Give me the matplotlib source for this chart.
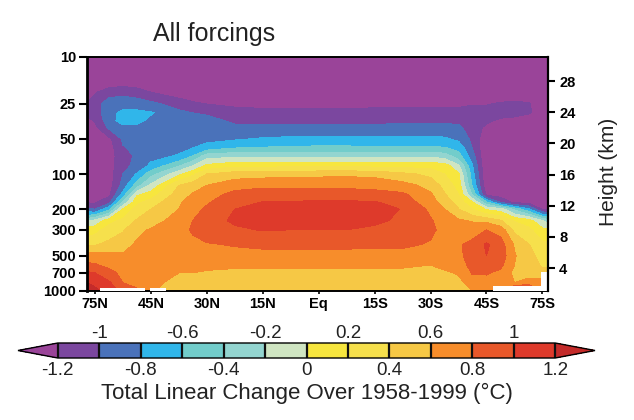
import numpy as np
import matplotlib
matplotlib.use("Agg")
import matplotlib.pyplot as plt

plt.rcParams['font.family'] = ['Liberation Sans', 'DejaVu Sans']

# x is in tick steps: 0 = 75N ... 8 = 75S
lat_labels = ['75N', '45N', '30N', '15N', 'Eq', '15S', '30S', '45S', '75S']
lat_pos = [-0.143, 0, 0.25, 0.5, 0.75, 1, 1.5, 1.75, 2, 2.5, 3, 3.5, 4, 4.5, 5, 5.5, 6,
           6.25, 6.5, 6.75, 7, 7.25, 7.5, 7.75, 8, 8.1]

pressure = [10, 15, 20, 25, 30, 35, 40, 50, 60, 70, 85, 100, 125, 150, 175, 200,
            250, 300, 400, 500, 600, 700, 850, 1000]
pressure_ticks = [10, 25, 50, 100, 200, 300, 500, 700, 1000]
height_ticks = [4, 8, 12, 16, 20, 24, 28]

# one list per latitude column, top (10 hPa) to bottom (1000 hPa)
change = [
    [-1.7, -1.5, -1.35, -1.18, -1.18, -1.25, -1.3, -1.35, -1.4, -1.4, -1.4, -1.35, -1.3, -1.28, -1.22, -.95, -.25, .1, .36, .68, .85, 1.03, 1.2, 1.3],
    [-1.7, -1.5, -1.22, -1.1, -1.1, -1.18, -1.25, -1.35, -1.35, -1.35, -1.35, -1.35, -1.3, -1.26, -1.22, -1.0, -.15, .12, .38, .7, .82, 1.0, 1.15, 1.25],
    [-1.7, -1.45, -1.08, -.9, -.87, -.88, -.96, -1.25, -1.3, -1.3, -1.3, -1.3, -1.3, -1.25, -1.05, -.65, .12, .3, .45, .67, .75, .87, 1.03, 1.1],
    [-1.7, -1.4, -1.05, -.9, -.75, -.72, -.85, -.96, -1.02, -1.07, -1.05, -1.0, -.92, -.72, -.35, .02, .25, .38, .52, .63, .68, .74, .8, .95],
    [-1.7, -1.42, -1.1, -.9, -.75, -.74, -.85, -.92, -.95, -.97, -.95, -.78, -.5, -.03, .15, .28, .42, .55, .63, .68, .7, .72, .72, .85],
    [-1.7, -1.45, -1.2, -.95, -.78, -.85, -.9, -.92, -.9, -.87, -.75, -.48, -.15, .1, .3, .4, .5, .62, .7, .72, .72, .68, .64, .62],
    [-1.7, -1.5, -1.3, -1.1, -.95, -.92, -.9, -.88, -.85, -.78, -.42, -.05, .4, .5, .57, .6, .7, .74, .73, .7, .65, .6, .55, .5],
    [-1.7, -1.5, -1.33, -1.17, -1.0, -.93, -.9, -.88, -.8, -.6, -.2, .15, .52, .62, .7, .74, .8, .82, .76, .7, .65, .6, .54, .49],
    [-1.7, -1.5, -1.35, -1.21, -1.03, -.93, -.9, -.87, -.7, -.3, .05, .4, .6, .72, .78, .83, .92, .92, .78, .7, .64, .58, .52, .48],
    [-1.7, -1.5, -1.35, -1.24, -1.13, -1.04, -.96, -.83, -.6, -.25, .15, .5, .73, .86, .93, 1.0, 1.03, .97, .82, .71, .63, .56, .5, .46],
    [-1.7, -1.5, -1.35, -1.25, -1.15, -1.05, -.96, -.78, -.58, -.25, .14, .52, .76, .9, 1.01, 1.07, 1.08, 1.01, .85, .72, .63, .55, .5, .46],
    [-1.7, -1.5, -1.35, -1.25, -1.16, -1.05, -.96, -.76, -.56, -.25, .15, .54, .76, .9, 1.02, 1.1, 1.1, 1.0, .85, .72, .63, .56, .5, .45],
    [-1.7, -1.5, -1.35, -1.25, -1.15, -1.05, -.95, -.75, -.55, -.25, .16, .55, .75, .9, 1.03, 1.1, 1.1, 1.0, .85, .72, .63, .55, .5, .45],
    [-1.7, -1.5, -1.35, -1.25, -1.15, -1.05, -.95, -.75, -.55, -.25, .16, .56, .75, .9, 1.03, 1.1, 1.1, 1.0, .85, .72, .63, .55, .5, .45],
    [-1.7, -1.5, -1.35, -1.24, -1.15, -1.05, -.96, -.76, -.57, -.25, .14, .54, .74, .87, 1.02, 1.08, 1.03, .97, .84, .72, .63, .55, .5, .46],
    [-1.7, -1.5, -1.35, -1.24, -1.15, -1.03, -.95, -.75, -.57, -.25, .13, .45, .68, .84, .92, .99, .97, .92, .84, .72, .63, .55, .5, .46],
    [-1.7, -1.5, -1.35, -1.24, -1.15, -1.03, -.95, -.76, -.57, -.25, .13, .35, .53, .63, .68, .76, .82, .84, .78, .66, .6, .53, .5, .46],
    [-1.7, -1.5, -1.35, -1.24, -1.15, -1.03, -.95, -.77, -.58, -.3, .1, .2, .33, .42, .52, .6, .7, .74, .78, .72, .65, .57, .5, .46],
    [-1.7, -1.5, -1.35, -1.24, -1.14, -1.04, -.97, -.85, -.66, -.52, -.17, .03, .12, .2, .32, .41, .63, .72, .78, .74, .68, .62, .54, .48],
    [-1.7, -1.5, -1.35, -1.22, -1.1, -1.08, -1.08, -1.05, -1.01, -.92, -.79, -.72, -.63, -.42, .03, .2, .58, .72, .85, .92, .88, .82, .7, .6],
    [-1.7, -1.5, -1.35, -1.22, -1.1, -1.15, -1.25, -1.35, -1.38, -1.4, -1.4, -1.4, -1.35, -1.25, -.55, -.02, .55, .8, 1.03, 1.0, .9, .82, .72, .62],
    [-1.7, -1.5, -1.33, -1.18, -1.1, -1.25, -1.35, -1.4, -1.4, -1.4, -1.4, -1.4, -1.38, -1.3, -1.0, -.1, .42, .72, .9, .92, .85, .75, .65, .6],
    [-1.7, -1.5, -1.32, -1.17, -1.1, -1.3, -1.35, -1.4, -1.4, -1.4, -1.4, -1.4, -1.4, -1.4, -1.25, -.45, .18, .35, .58, .62, .6, .55, .6, 1.2],
    [-1.7, -1.5, -1.35, -1.18, -1.18, -1.32, -1.38, -1.4, -1.4, -1.4, -1.4, -1.4, -1.4, -1.38, -1.25, -.75, .1, .25, .41, .45, .48, .5, .7, 1.2],
    [-1.7, -1.5, -1.35, -1.3, -1.28, -1.35, -1.4, -1.4, -1.4, -1.4, -1.4, -1.4, -1.4, -1.38, -1.35, -1.22, -.2, .05, .25, .35, .38, .45, .7, .8],
    [-1.7, -1.5, -1.35, -1.3, -1.3, -1.35, -1.4, -1.4, -1.4, -1.4, -1.4, -1.4, -1.4, -1.38, -1.35, -1.25, -.3, .03, .24, .34, .37, .45, .7, .8],
]

levels = [-1.2, -1, -.8, -.6, -.4, -.2, 0, .2, .4, .6, .8, 1, 1.2]
colors = ['#9A4499', '#7B479F', '#4A72BA', '#30B6EA', '#72CDCB', '#93D5D0', '#CFE5C2',
          '#F7E63E', '#F6E04C', '#F6C845', '#F78D2B', '#E8582A', '#DE3A2B', '#C42B2A']
bar_bottom = ['-1.2', '-0.8', '-0.4', '0', '0.4', '0.8', '1.2']
bar_top = ['-1', '-0.6', '-0.2', '0.2', '0.6', '1']

# no-data gaps along the ground: lat from, lat to, pressure from
gap_start = [0.09, 0.98, 7.12, 7.98]
gap_end = [0.89, 1.27, 7.98, 8.1]
gap_top = [943, 943, 906, 689]

W, H = 634, 420
fig = plt.figure(figsize=(W / 100, H / 100), dpi=100)
ax = fig.add_axes([87 / W, 1 - 291 / H, (548 - 87) / W, (291 - 57) / H])

Z = np.array(change).T
cf = ax.contourf(lat_pos, pressure, Z, levels=levels, colors=colors, extend='both')

for a, b, p in zip(gap_start, gap_end, gap_top):
    ax.fill_between([a, b], p, 1000, color='white', lw=0, zorder=3)

ax.set_yscale('log')
ax.set_ylim(1000, 10)
ax.set_xlim(-0.143, 8.1)
ax.minorticks_off()
ax.set_yticks(pressure_ticks)
ax.set_yticklabels([str(p) for p in pressure_ticks], fontsize=10.5, fontweight='bold')
ax.set_xticks(range(len(lat_labels)))
ax.set_xticklabels(lat_labels, fontsize=10.5, fontweight='bold')
ax.tick_params(axis='y', length=6, width=1.5, pad=2)
ax.tick_params(axis='x', length=2, width=1.2, pad=2)
for s in ax.spines.values():
    s.set_linewidth(1.4)
ax.spines['left'].set_linewidth(2)

right = ax.twinx()
right.set_ylim(1.05, 31.1)
right.set_yticks(height_ticks)
right.set_yticklabels([str(h) for h in height_ticks], fontsize=10.5, fontweight='bold')
right.tick_params(axis='y', length=5, width=1.5, pad=3)
for s in right.spines.values():
    s.set_visible(False)
right.spines['right'].set_visible(True)
right.spines['right'].set_linewidth(1.6)

fig.text(214 / W, 1 - 34 / H, 'All forcings', fontsize=18, color='#222222', ha='center', va='center')
fig.text(608 / W, 1 - 172 / H, 'Height (km)', fontsize=15, color='#222222', rotation=90, ha='center', va='center')

cax = fig.add_axes([18 / W, 1 - 358 / H, (595 - 18) / W, 15 / H])
cb = fig.colorbar(cf, cax=cax, orientation='horizontal', extend='both', extendfrac=0.08, drawedges=True)
cb.dividers.set_color('#111111')
cb.dividers.set_linewidth(1.6)
cb.outline.set_linewidth(1.0)
cb.set_ticks(levels[::2])
cb.set_ticklabels(bar_bottom)
cax.tick_params(length=0, labelsize=13.5, pad=3, labelcolor='#222222')
for v, t in zip(levels[1::2], bar_top):
    cax.text(v, 1.6, t, transform=cax.get_xaxis_transform(), fontsize=13.5,
             color='#222222', ha='center', va='center')

fig.text(307 / W, 1 - 393 / H, 'Total Linear Change Over 1958-1999 (°C)', fontsize=16,
         color='#222222', ha='center', va='center')

fig.savefig('out.png', dpi=100)
